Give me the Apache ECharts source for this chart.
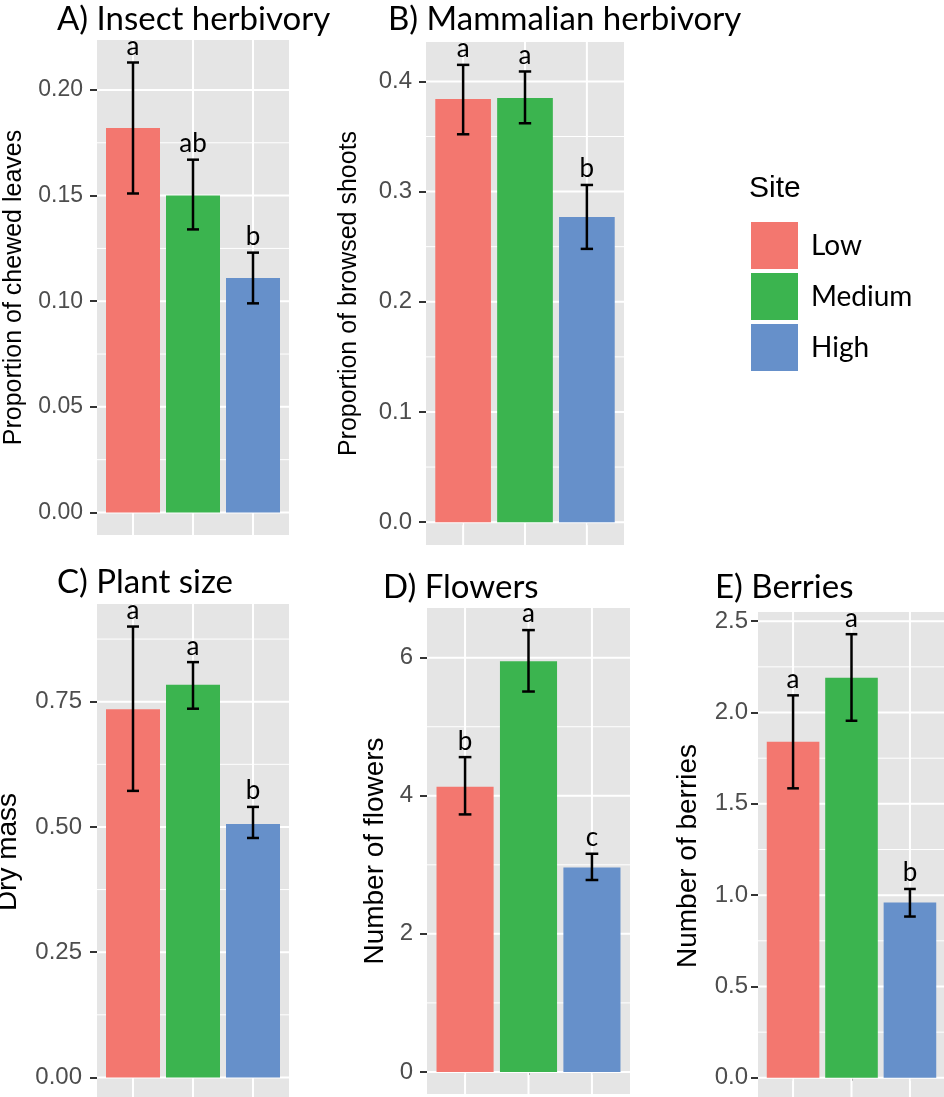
<!DOCTYPE html>
<html>
<head>
<meta charset="utf-8">
<script src="https://cdn.jsdelivr.net/npm/echarts@6/dist/echarts.min.js"></script>
<style>
  html, body { margin: 0; padding: 0; background: #ffffff; }
  #chart { width: 944px; height: 1097px; }
</style>
</head>
<body>
<div id="chart"></div>
<script>
// Sites (legend order) and their fill colours
const sites = ['Low', 'Medium', 'High'];
const siteColors = ['#F3776F', '#3BB44F', '#6690CA'];

// A) Insect herbivory: proportion of chewed leaves (mean, lower / upper error)
const insectMean = [0.182, 0.150, 0.111];
const insectLower = [0.151, 0.134, 0.099];
const insectUpper = [0.213, 0.167, 0.123];
const insectLetters = ['a', 'ab', 'b'];
const insectTicks = [0, 0.05, 0.10, 0.15, 0.20];
const insectTickLabels = ['0.00', '0.05', '0.10', '0.15', '0.20'];

// B) Mammalian herbivory: proportion of browsed shoots
const mammalMean = [0.384, 0.385, 0.277];
const mammalLower = [0.352, 0.362, 0.248];
const mammalUpper = [0.415, 0.409, 0.306];
const mammalLetters = ['a', 'a', 'b'];
const mammalTicks = [0, 0.1, 0.2, 0.3, 0.4];
const mammalTickLabels = ['0.0', '0.1', '0.2', '0.3', '0.4'];

// C) Plant size: dry mass
const sizeMean = [0.735, 0.784, 0.506];
const sizeLower = [0.572, 0.736, 0.478];
const sizeUpper = [0.900, 0.829, 0.540];
const sizeLetters = ['a', 'a', 'b'];
const sizeTicks = [0, 0.25, 0.50, 0.75];
const sizeTickLabels = ['0.00', '0.25', '0.50', '0.75'];

// D) Flowers: number of flowers
const flowerMean = [4.13, 5.95, 2.96];
const flowerLower = [3.73, 5.51, 2.78];
const flowerUpper = [4.56, 6.40, 3.16];
const flowerLetters = ['b', 'a', 'c'];
const flowerTicks = [0, 2, 4, 6];
const flowerTickLabels = ['0', '2', '4', '6'];

// E) Berries: number of berries
const berryMean = [1.84, 2.19, 0.96];
const berryLower = [1.585, 1.955, 0.883];
const berryUpper = [2.094, 2.429, 1.034];
const berryLetters = ['a', 'a', 'b'];
const berryTicks = [0, 0.5, 1.0, 1.5, 2.0, 2.5];
const berryTickLabels = ['0.0', '0.5', '1.0', '1.5', '2.0', '2.5'];

const SANS = 'Liberation Sans, Arial, sans-serif';
const TITLE_FONT = 'Lato, sans-serif';

const panels = [
  { title: 'A) Insect herbivory', yName: 'Proportion of chewed leaves',
    mean: insectMean, lo: insectLower, hi: insectUpper, letters: insectLetters,
    ticks: insectTicks, tickLabels: insectTickLabels,
    box: { left: 97, top: 40, width: 192, height: 495 }, titleAt: { left: 57, top: 3 },
    nameGap: 70, nameSize: 25, tickSize: 23, labelMargin: 14 },
  { title: 'B) Mammalian herbivory', yName: 'Proportion of browsed shoots',
    mean: mammalMean, lo: mammalLower, hi: mammalUpper, letters: mammalLetters,
    ticks: mammalTicks, tickLabels: mammalTickLabels,
    box: { left: 426, top: 42, width: 198, height: 503 }, titleAt: { left: 388, top: 3 },
    nameGap: 64, nameSize: 25, tickSize: 24, labelMargin: 14 },
  { title: 'C) Plant size', yName: 'Dry mass',
    mean: sizeMean, lo: sizeLower, hi: sizeUpper, letters: sizeLetters,
    ticks: sizeTicks, tickLabels: sizeTickLabels,
    box: { left: 97, top: 604, width: 192, height: 496 }, titleAt: { left: 57, top: 566 },
    nameGap: 75, nameSize: 28, tickSize: 24, labelMargin: 15 },
  { title: 'D) Flowers', yName: 'Number of flowers',
    mean: flowerMean, lo: flowerLower, hi: flowerUpper, letters: flowerLetters,
    ticks: flowerTicks, tickLabels: flowerTickLabels,
    box: { left: 427, top: 608, width: 203, height: 486 }, titleAt: { left: 383, top: 571 },
    nameGap: 38, nameSize: 28, tickSize: 24, labelMargin: 14 },
  { title: 'E) Berries', yName: 'Number of berries',
    mean: berryMean, lo: berryLower, hi: berryUpper, letters: berryLetters,
    ticks: berryTicks, tickLabels: berryTickLabels,
    box: { left: 758, top: 612, width: 187, height: 488 }, titleAt: { left: 715, top: 571 },
    nameGap: 56, nameSize: 28, tickSize: 24, labelMargin: 10 }
];

const option = {
  animation: false,
  backgroundColor: '#ffffff',
  title: [],
  grid: [],
  xAxis: [],
  yAxis: [],
  series: [],
  legend: {
    data: sites,
    orient: 'vertical',
    left: 751,
    top: 222,
    padding: 0,
    itemWidth: 47,
    itemHeight: 47,
    itemGap: 4,
    icon: 'rect',
    selectedMode: false,
    textStyle: { fontFamily: TITLE_FONT, fontSize: 28, color: '#000', padding: [0, 0, 0, 8] }
  }
};

option.title.push({
  text: 'Site', left: 749, top: 174, padding: 0,
  textStyle: { fontFamily: SANS, fontSize: 30, fontWeight: 'normal', color: '#000' }
});

panels.forEach((p, i) => {
  // ggplot-style limits: 5% expansion around [0, highest error bar]
  const M = Math.max(...p.hi);
  const yMin = -0.05 * M;
  const yMax = 1.05 * M;

  option.title.push({
    text: p.title, left: p.titleAt.left, top: p.titleAt.top, padding: 0,
    textStyle: { fontFamily: TITLE_FONT, fontSize: 33, fontWeight: 'normal', color: '#000' }
  });

  option.grid.push({
    left: p.box.left, top: p.box.top, width: p.box.width, height: p.box.height,
    show: true, backgroundColor: '#E5E5E5', borderWidth: 0,
    containLabel: false, outerBoundsMode: 'none'
  });

  option.xAxis.push({
    gridIndex: i, type: 'value', min: 0.4, max: 3.6,
    axisLine: { show: false },
    axisLabel: { show: false },
    splitLine: { show: false },
    axisTick: { show: true, customValues: [1, 2, 3], length: 3, lineStyle: { color: '#333', width: 1.5 } }
  });

  option.yAxis.push({
    gridIndex: i, type: 'value', min: yMin, max: yMax,
    name: p.yName, nameLocation: 'middle', nameGap: p.nameGap, nameRotate: 90,
    nameTextStyle: { fontFamily: SANS, fontSize: p.nameSize, color: '#000' },
    axisLine: { show: false },
    splitLine: { show: false },
    axisTick: { show: true, customValues: p.ticks, length: 7, lineStyle: { color: '#333', width: 2 } },
    axisLabel: {
      show: true, customValues: p.ticks, margin: p.labelMargin,
      fontFamily: SANS, fontSize: p.tickSize, color: '#4D4D4D',
      formatter: (v) => {
        const k = p.ticks.findIndex(t => Math.abs(t - v) < 1e-9);
        return k >= 0 ? p.tickLabels[k] : '';
      }
    }
  });

  // panel gridlines: minor (between major ticks), major, and vertical lines at each site
  const step = p.ticks[1] - p.ticks[0];
  const rules = [];
  for (let k = -1; k < p.ticks.length; k++) {
    const v = p.ticks[0] + (k + 0.5) * step;
    if (v > yMin && v < yMax) rules.push([0, v]);
  }
  p.ticks.forEach(t => rules.push([1, t]));
  sites.forEach((s, j) => rules.push([2, j + 1]));

  option.series.push({
    type: 'custom', xAxisIndex: i, yAxisIndex: i, silent: true, z: 1,
    data: rules,
    renderItem: (params, api) => {
      const cs = params.coordSys;
      const kind = api.value(0);
      const v = api.value(1);
      if (kind === 2) {
        const x = api.coord([v, 0])[0];
        return { type: 'line', shape: { x1: x, y1: cs.y, x2: x, y2: cs.y + cs.height },
                 style: { stroke: '#ffffff', lineWidth: 2 } };
      }
      const y = api.coord([1, v])[1];
      return { type: 'line', shape: { x1: cs.x, y1: y, x2: cs.x + cs.width, y2: y },
               style: { stroke: '#ffffff', lineWidth: kind === 1 ? 2 : 1 } };
    }
  });

  // bars, one series per site so the legend picks them up
  const barW = 0.9 * p.box.width / 3.2;
  sites.forEach((s, j) => {
    option.series.push({
      type: 'bar', name: s, xAxisIndex: i, yAxisIndex: i, silent: true, z: 2,
      barWidth: barW, barGap: '-100%',
      itemStyle: { color: siteColors[j] },
      data: [[j + 1, p.mean[j]]]
    });
  });

  // error bars with significance letters
  option.series.push({
    type: 'custom', xAxisIndex: i, yAxisIndex: i, silent: true, z: 3, clip: false,
    data: sites.map((s, j) => [j + 1, p.lo[j], p.hi[j]]),
    encode: { x: 0, y: [1, 2] },
    renderItem: (params, api) => {
      const x = api.value(0);
      const lo = api.coord([x, api.value(1)]);
      const hi = api.coord([x, api.value(2)]);
      const half = api.size([0.1, 0])[0];
      const st = { stroke: '#000', lineWidth: 2.5 };
      return {
        type: 'group',
        children: [
          { type: 'line', shape: { x1: lo[0], y1: lo[1], x2: hi[0], y2: hi[1] }, style: st },
          { type: 'line', shape: { x1: lo[0] - half, y1: lo[1], x2: lo[0] + half, y2: lo[1] }, style: st },
          { type: 'line', shape: { x1: hi[0] - half, y1: hi[1], x2: hi[0] + half, y2: hi[1] }, style: st },
          { type: 'text', x: hi[0], y: hi[1] - 3,
            style: { text: p.letters[params.dataIndex], fill: '#000',
                     font: '26px Lato, sans-serif',
                     align: 'center', verticalAlign: 'bottom',
                     textAlign: 'center', textVerticalAlign: 'bottom' } }
        ]
      };
    }
  });
});

const chart = echarts.init(document.getElementById('chart'), null, { renderer: 'canvas' });
chart.setOption(option);
</script>
</body>
</html>
